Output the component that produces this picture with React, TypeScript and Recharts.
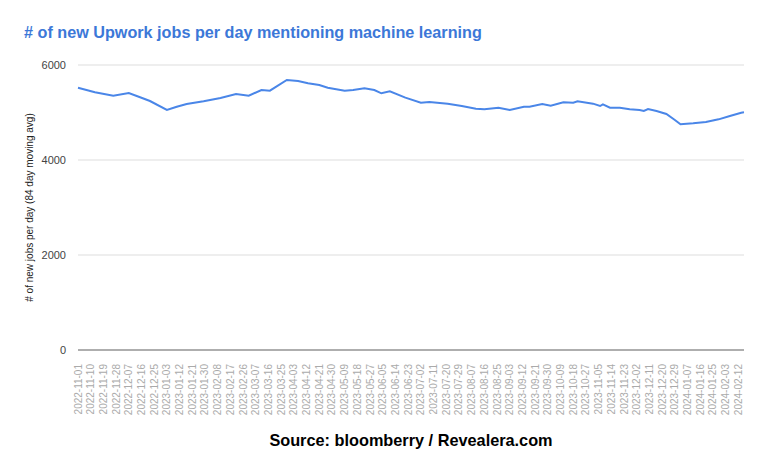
import React from "react";
import { LineChart, Line, XAxis, YAxis, CartesianGrid, Label } from "recharts";

// Sample dates of the 84-day moving average
const dates = [
  "2022-11-01", "2022-11-13", "2022-11-26", "2022-12-07", "2022-12-15", "2022-12-22",
  "2023-01-03", "2023-01-10", "2023-01-17", "2023-01-29", "2023-02-10", "2023-02-21",
  "2023-03-02", "2023-03-11", "2023-03-17", "2023-03-29", "2023-04-06", "2023-04-13",
  "2023-04-21", "2023-04-27", "2023-05-09", "2023-05-15", "2023-05-23", "2023-05-30",
  "2023-06-04", "2023-06-10", "2023-06-21", "2023-07-02", "2023-07-08", "2023-07-21",
  "2023-07-31", "2023-08-10", "2023-08-16", "2023-08-26", "2023-09-03", "2023-09-13",
  "2023-09-17", "2023-09-26", "2023-10-02", "2023-10-11", "2023-10-18", "2023-10-21",
  "2023-11-01", "2023-11-06", "2023-11-08", "2023-11-13", "2023-11-20", "2023-11-27",
  "2023-12-04", "2023-12-07", "2023-12-10", "2023-12-16", "2023-12-23", "2023-12-29",
  "2024-01-02", "2024-01-11", "2024-01-20", "2024-01-29", "2024-02-06", "2024-02-14",
  "2024-02-16",
];

// New Upwork jobs per day mentioning machine learning
const jobs = [
  5522, 5425, 5354, 5410, 5320, 5242,
  5053, 5122, 5179, 5235, 5305, 5389,
  5354, 5474, 5459, 5684, 5663, 5614,
  5579, 5522, 5459, 5474, 5509, 5474,
  5404, 5446, 5312, 5207, 5221, 5186,
  5137, 5080, 5067, 5101, 5053, 5122,
  5122, 5179, 5143, 5214, 5207, 5235,
  5186, 5137, 5172, 5101, 5101, 5067,
  5053, 5032, 5074, 5032, 4968, 4842,
  4751, 4772, 4800, 4856, 4926, 4996,
  5004,
];

// Date labels shown along the x axis
const xTickLabels = [
  "2022-11-01", "2022-11-10", "2022-11-19", "2022-11-28", "2022-12-07", "2022-12-16",
  "2022-12-25", "2023-01-03", "2023-01-12", "2023-01-21", "2023-01-30", "2023-02-08",
  "2023-02-17", "2023-02-26", "2023-03-07", "2023-03-16", "2023-03-25", "2023-04-03",
  "2023-04-12", "2023-04-21", "2023-04-30", "2023-05-09", "2023-05-18", "2023-05-27",
  "2023-06-05", "2023-06-14", "2023-06-23", "2023-07-02", "2023-07-11", "2023-07-20",
  "2023-07-29", "2023-08-07", "2023-08-16", "2023-08-25", "2023-09-03", "2023-09-12",
  "2023-09-21", "2023-09-30", "2023-10-09", "2023-10-18", "2023-10-27", "2023-11-05",
  "2023-11-14", "2023-11-23", "2023-12-02", "2023-12-11", "2023-12-20", "2023-12-29",
  "2024-01-07", "2024-01-16", "2024-01-25", "2024-02-03", "2024-02-12",
];

const yTicks = [0, 2000, 4000, 6000];

const toTime = (d: string) => Date.parse(d + "T00:00:00Z");
const fmtDate = (t: number) => new Date(t).toISOString().slice(0, 10);

const data = dates.map((d, i) => ({ t: toTime(d), jobs: jobs[i] }));
const xTicks = xTickLabels.map(toTime);

const FONT = "'Liberation Sans', Arial, sans-serif";

const DateTick = (props: any) => {
  const { x, y, payload } = props;
  return (
    <text
      transform={`translate(${x + 3.5},${y + 6}) rotate(-90)`}
      textAnchor="end"
      fontSize={10}
      fill="#aaaaaa"
      fontFamily={FONT}
    >
      {fmtDate(payload.value)}
    </text>
  );
};

export default function App() {
  return (
    <div
      style={{
        position: "relative",
        margin: -8,
        width: 768,
        height: 475,
        background: "#ffffff",
        fontFamily: FONT,
      }}
    >
      <div
        style={{
          position: "absolute",
          left: 24,
          top: 23,
          fontSize: 16.2,
          fontWeight: "bold",
          color: "#3c78d8",
          whiteSpace: "nowrap",
        }}
      >
        # of new Upwork jobs per day mentioning machine learning
      </div>
      <LineChart
        width={768}
        height={475}
        data={data}
        margin={{ top: 65, right: 24, bottom: 0, left: 0 }}
      >
        <CartesianGrid vertical={false} stroke="#dddddd" />
        <XAxis
          dataKey="t"
          type="number"
          scale="time"
          domain={[data[0].t, data[data.length - 1].t]}
          ticks={xTicks}
          interval={0}
          tick={<DateTick />}
          tickLine={false}
          axisLine={{ stroke: "#999999", strokeWidth: 1.5 }}
          height={125}
        />
        <YAxis
          domain={[0, 6000]}
          ticks={yTicks}
          width={78}
          tickLine={false}
          axisLine={false}
          tickMargin={6}
          tick={{ fontSize: 11, fill: "#444444", fontFamily: FONT }}
        >
          <Label
            value="# of new jobs per day (84 day moving avg)"
            angle={-90}
            position="insideLeft"
            offset={29}
            style={{ fontSize: 10, fill: "#222222", fontFamily: FONT, textAnchor: "middle" }}
          />
        </YAxis>
        <Line
          type="linear"
          dataKey="jobs"
          stroke="#4a86e8"
          strokeWidth={2}
          dot={false}
          isAnimationActive={false}
        />
      </LineChart>
      <div
        style={{
          position: "absolute",
          left: 0,
          width: 822,
          top: 431,
          textAlign: "center",
          fontSize: 16.3,
          fontWeight: "bold",
          color: "#000000",
          whiteSpace: "nowrap",
        }}
      >
        Source: bloomberry / Revealera.com
      </div>
    </div>
  );
}
